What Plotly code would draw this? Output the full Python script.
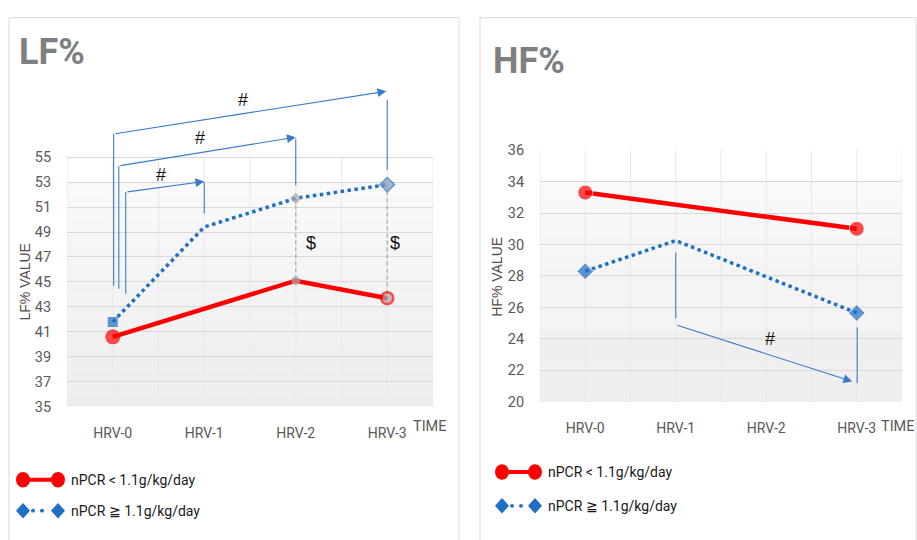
import plotly.graph_objects as go

W, H = 917, 540

# ---- data -------------------------------------------------------------
categories = ["HRV-0", "HRV-1", "HRV-2", "HRV-3"]
lf_low = [40.6, 42.85, 45.1, 43.7]     # nPCR < 1.1 g/kg/day
lf_high = [41.8, 49.4, 51.7, 52.8]     # nPCR >= 1.1 g/kg/day
hf_low = [33.3, 32.55, 31.75, 31.0]
hf_high = [28.3, 30.25, 27.95, 25.65]
lf_ticks = [35, 37, 39, 41, 43, 45, 47, 49, 51, 53, 55]
hf_ticks = [20, 22, 24, 26, 28, 30, 32, 34, 36]
legend_labels = ["nPCR < 1.1g/kg/day", "nPCR \u2267 1.1g/kg/day"]

# ---- styling ----------------------------------------------------------
RED = "#FF0000"
BLUE = "#1F6FC6"
ARROW = "#3A7BCB"
GRAY = "#A6A6A6"
UI = "Roboto, Liberation Sans, Arial"
SANS = "Liberation Sans, Arial"


def px(x):
    return x / W


def py(y):
    return 1 - y / H


fig = go.Figure()

# ---- LF% panel ----------------------------------------------------------
for i in (2, 3):
    fig.add_trace(go.Scatter(
        x=[categories[i], categories[i]], y=[lf_high[i], lf_low[i]],
        mode="lines", line=dict(color="#B4B4B4", width=1.5, dash="4px,3px"),
        xaxis="x", yaxis="y", hoverinfo="skip", showlegend=False))

fig.add_trace(go.Scatter(
    x=categories, y=lf_high, mode="lines+markers", xaxis="x", yaxis="y",
    line=dict(color=BLUE, width=3.5, dash="dot"),
    marker=dict(symbol=["square", "circle", "diamond", "diamond"],
                size=[10, 0, 9, 11],
                color=[BLUE, BLUE, GRAY, "#8C9DB5"],
                line=dict(color=[BLUE, BLUE, GRAY, BLUE], width=[0, 0, 0, 1.5])),
    showlegend=False))
fig.add_trace(go.Scatter(
    x=categories, y=lf_low, mode="lines+markers", xaxis="x", yaxis="y",
    line=dict(color=RED, width=4.5),
    marker=dict(symbol="circle", size=[15, 0, 9, 12],
                color=[RED, RED, GRAY, GRAY],
                line=dict(color=[RED, RED, GRAY, RED], width=[0, 0, 0, 2.5])),
    showlegend=False))

# ---- HF% panel ----------------------------------------------------------
fig.add_trace(go.Scatter(
    x=categories, y=hf_high, mode="lines+markers", xaxis="x2", yaxis="y2",
    line=dict(color=BLUE, width=3.5, dash="dot"),
    marker=dict(symbol="diamond", size=[13, 0, 0, 13], color=BLUE),
    showlegend=False))
fig.add_trace(go.Scatter(
    x=categories, y=hf_low, mode="lines+markers", xaxis="x2", yaxis="y2",
    line=dict(color=RED, width=4.5),
    marker=dict(symbol="circle", size=[15, 0, 0, 15], color=RED),
    showlegend=False))

shapes = []
annotations = []


def shade(xref, yref, lo, hi, white_top, stops):
    """Plot-area background: a white top band, then stepped gray bands."""
    shapes.append(dict(type="rect", xref=xref, yref=yref, x0=-0.5, x1=3.5,
                       y0=white_top, y1=hi, fillcolor="white",
                       line=dict(width=0), layer="below"))
    for y0, y1, g in stops:
        shapes.append(dict(type="rect", xref=xref, yref=yref, x0=-0.5, x1=3.5,
                           y0=y0, y1=y1, fillcolor=f"rgb({g},{g},{g})",
                           line=dict(width=0), layer="below"))
    k = -0.5
    while k <= 3.5:
        shapes.append(dict(type="line", xref=xref, yref=yref, x0=k, x1=k,
                           y0=lo, y1=hi, line=dict(color="#E8E8E8", width=1),
                           layer="below"))
        k += 0.5


lf_stops = [(53 - j, 52 - j, round(249 - j * 12 / 17)) for j in range(18)]
shade("x", "y", 35, 55, 53, lf_stops)
hf_stops = [(34 - j * 0.5, 33.5 - j * 0.5,
             round(249 - j * 4 / 10) if j < 11 else (244 if j < 19 else 239))
            for j in range(28)]
shade("x2", "y2", 20, 36, 34, hf_stops)


def arrow(xa, ya, x0, y0, x1, y1):
    annotations.append(dict(
        x=x1, y=y1, ax=x0, ay=y0, xref=xa, yref=ya, axref=xa, ayref=ya,
        text="", showarrow=True, arrowhead=2, arrowsize=1.6, arrowwidth=1.1,
        arrowcolor=ARROW, standoff=0))


def vline(xa, ya, x, y0, y1):
    shapes.append(dict(type="line", xref=xa, yref=ya, x0=x, x1=x, y0=y0, y1=y1,
                       line=dict(color=ARROW, width=1.1)))


def mark(xa, ya, x, y, t, size=18):
    annotations.append(dict(x=x, y=y, xref=xa, yref=ya, text=t, showarrow=False,
                            xanchor="center", yanchor="middle",
                            font=dict(family=SANS, size=size, color="#111111")))


# LF% significance brackets
vline("x", "y", 0.01, 44.7, 56.86)
arrow("x", "y", 0.01, 56.86, 2.99, 60.28)
vline("x", "y", 3.0, 59.6, 54.0)
mark("x", "y", 1.42, 59.6, "#")

vline("x", "y", 0.066, 44.45, 54.3)
arrow("x", "y", 0.066, 54.3, 2.0, 56.6)
vline("x", "y", 2.0, 56.5, 52.75)
mark("x", "y", 0.95, 56.5, "#")

vline("x", "y", 0.142, 44.06, 52.2)
arrow("x", "y", 0.142, 52.2, 1.0, 53.05)
vline("x", "y", 1.0, 53.0, 50.5)
mark("x", "y", 0.53, 53.6, "#")

mark("x", "y", 2.17, 48.15, "$", 18)
mark("x", "y", 3.08, 48.15, "$", 18)

# HF% significance bracket
vline("x2", "y2", 1.0, 29.5, 25.3)
arrow("x2", "y2", 1.0, 24.9, 2.95, 21.3)
vline("x2", "y2", 3.005, 24.75, 21.2)
mark("x2", "y2", 2.04, 24.0, "#")

# ---- panel frames, titles, axis captions --------------------------------
for x0, x1 in ((9, 459), (480, 916)):
    shapes.append(dict(type="rect", xref="paper", yref="paper",
                       x0=px(x0), x1=px(x1), y0=py(620), y1=py(10),
                       line=dict(color="#D9D9D9", width=1)))

for t, x, y in (("LF%", 17, 45), ("HF%", 491, 55)):
    annotations.append(dict(x=px(x), y=py(y), xref="paper", yref="paper",
                            xanchor="left", yanchor="middle", text=f"<b>{t}</b>",
                            showarrow=False,
                            font=dict(family=UI, size=36, color="#7F7F7F")))

for t, x, y in (("LF% VALUE", 25.5, 283), ("HF% VALUE", 497, 277.5)):
    annotations.append(dict(x=px(x), y=py(y), xref="paper", yref="paper",
                            xanchor="center", yanchor="middle",
                            text=t, textangle=-90, showarrow=False,
                            font=dict(family=SANS, size=14, color="#5A4A4A")))

for x in (430, 898):
    annotations.append(dict(x=px(x), y=py(432), xref="paper", yref="paper",
                            xanchor="center", yanchor="middle",
                            text="TIME", showarrow=False,
                            font=dict(family=UI, size=14.5, color="#595959")))

# ---- legends ------------------------------------------------------------
def legend_block(xl, xr, y_red, y_blue, xt, dots):
    shapes.append(dict(type="line", xref="paper", yref="paper",
                       x0=px(xl), x1=px(xr), y0=py(y_red), y1=py(y_red),
                       line=dict(color=RED, width=4)))
    for cx in (xl, xr):
        shapes.append(dict(type="circle", xref="paper", yref="paper",
                           x0=px(cx - 7), x1=px(cx + 7),
                           y0=py(y_red + 8), y1=py(y_red - 8),
                           fillcolor=RED, line=dict(width=0)))
        path = (f"M {px(cx - 7)} {py(y_blue)} L {px(cx)} {py(y_blue - 8)} "
                f"L {px(cx + 7)} {py(y_blue)} L {px(cx)} {py(y_blue + 8)} Z")
        shapes.append(dict(type="path", xref="paper", yref="paper", path=path,
                           fillcolor=BLUE, line=dict(width=0)))
    for dx in dots:
        shapes.append(dict(type="circle", xref="paper", yref="paper",
                           x0=px(dx - 2), x1=px(dx + 2),
                           y0=py(y_blue + 2), y1=py(y_blue - 2),
                           fillcolor=BLUE, line=dict(width=0)))
    for lab, yy in zip(legend_labels, (y_red, y_blue)):
        annotations.append(dict(x=px(xt), y=py(yy), xref="paper", yref="paper",
                                xanchor="left", yanchor="middle", text=lab,
                                showarrow=False,
                                font=dict(family=UI, size=14, color="#1A1A1A")))


legend_block(23, 58, 487, 519, 69, (33, 42))
legend_block(502, 535, 479, 514, 546, (512, 521))

# ---- axes ---------------------------------------------------------------
xax = dict(type="category", categoryorder="array", categoryarray=categories,
           range=[-0.5, 3.5], showgrid=False, zeroline=False, showline=False,
           ticks="outside", ticklen=13, tickcolor="rgba(0,0,0,0)",
           tickfont=dict(family=UI, size=14, color="#595959"))
yax = dict(showgrid=True, gridcolor="#D9D9D9", gridwidth=1, zeroline=False,
           showline=False, ticks="outside", ticklen=12,
           tickcolor="rgba(0,0,0,0)",
           tickfont=dict(family=UI, size=14.5, color="#595959"))

fig.update_layout(
    width=W, height=H, margin=dict(l=0, r=0, t=0, b=0),
    paper_bgcolor="white", plot_bgcolor="rgba(0,0,0,0)", showlegend=False,
    xaxis=dict(xax, domain=[px(67), px(433)], anchor="y"),
    yaxis=dict(yax, domain=[py(411.7), py(63.8)], range=[35, 62],
               tickvals=lf_ticks, anchor="x"),
    xaxis2=dict(xax, domain=[px(540), px(902)], anchor="y2"),
    yaxis2=dict(yax, domain=[py(406.7), py(146.7)], range=[20, 36],
                tickvals=hf_ticks, anchor="x2"),
    shapes=shapes, annotations=annotations,
)

fig.write_html("out.html")
